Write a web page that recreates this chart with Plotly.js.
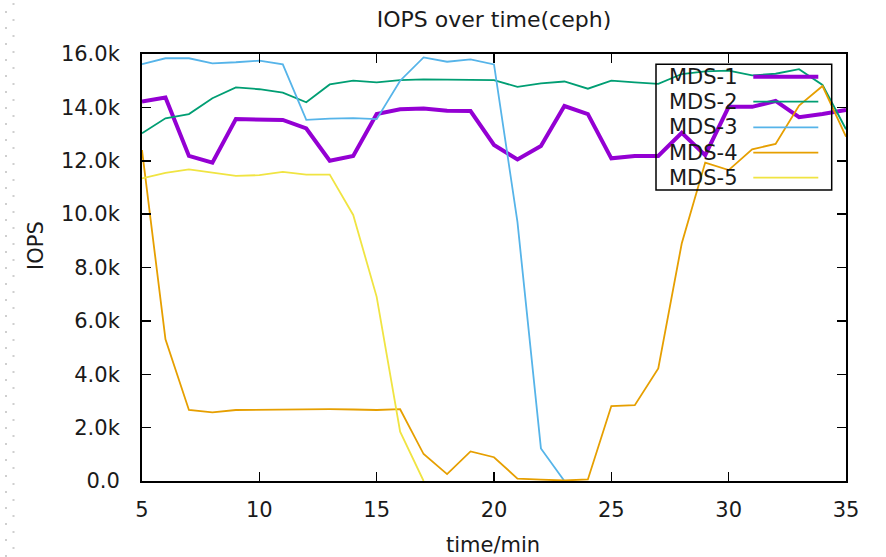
<!DOCTYPE html>
<html>
<head>
<meta charset="utf-8">
<script src="https://cdn.plot.ly/plotly-3.0.1.min.js"></script>
<style>
  html, body { margin: 0; padding: 0; background: #ffffff; }
  #chart { width: 886px; height: 557px; }
</style>
</head>
<body>
<div id="chart"></div>
<script>
// ---- data ----
const minutes = [5,6,7,8,9,10,11,12,13,14,15,16,17,18,19,20,21,22,23,24,25,26,27,28,29,30,31,32,33,34,35];
const seriesNames = ["MDS-1", "MDS-2", "MDS-3", "MDS-4", "MDS-5"];
const mds1 = [14220,14370,12180,11930,13560,13530,13530,13210,12000,12180,13750,13930,13960,13870,13860,12590,12050,12550,14050,13750,12090,12180,12180,13050,12210,14020,14020,14240,13630,13750,13900];
const mds2 = [13030,13590,13750,14340,14750,14680,14550,14190,14860,15000,14940,15020,15050,15050,15030,15020,14770,14900,14970,14700,15000,14940,14880,15250,15350,15380,15200,15260,15430,14840,13180];
const mds3 = [15620,15840,15840,15650,15690,15750,15610,13530,13580,13600,13560,15000,15870,15710,15800,15610,9700,1220,0,null,null,null,null,null,null,null,null,null,null,null,null];
const mds4 = [12400,5310,2660,2570,2660,2670,2680,2690,2690,2680,2660,2690,1010,260,1110,890,90,50,20,60,2810,2840,4220,8900,11930,11650,12430,12630,14070,14800,12900];
const mds5 = [11340,11550,11680,11550,11430,11460,11580,11480,11480,9970,6900,1850,0,null,null,null,null,null,null,null,null,null,null,null,null,null,null,null,null,null,null];
const xTickVals = [5,10,15,20,25,30,35];
const yTickVals = [0,2000,4000,6000,8000,10000,12000,14000,16000];
const yTickText = ["0.0","2.0k","4.0k","6.0k","8.0k","10.0k","12.0k","14.0k","16.0k"];

// ---- styles ----
const colors = ["#9400d3", "#009e73", "#56b4e9", "#e69f00", "#f0e442"];
const widths = [4, 1.8, 1.8, 1.8, 1.8];
const allSeries = [mds1, mds2, mds3, mds4, mds5];
const FONT = "DejaVu Sans, Verdana, sans-serif";
const FS = 21;
const TXT = "#1a1a1a";

// plot area in pixels
const W = 886, H = 557;
const PL = 142, PR = 846, PT = 54, PB = 481;
const px2x = p => (p - PL) / (PR - PL);
const px2y = p => (PB - p) / (PB - PT);

const traces = allSeries.map((ys, i) => ({
  type: "scatter",
  mode: "lines",
  name: seriesNames[i],
  x: minutes,
  y: ys,
  line: { color: colors[i], width: widths[i] },
  showlegend: false,
  hoverinfo: "skip"
}));

// manual gnuplot-style key (text left, sample right)
const shapes = [];
const annotations = [];
shapes.push({
  type: "rect", xref: "paper", yref: "paper",
  x0: px2x(656), x1: px2x(831.7), y0: px2y(190), y1: px2y(64.3),
  line: { color: "#000000", width: 1.5 }, fillcolor: "rgba(0,0,0,0)"
});
const rowY = [76.7, 101.7, 127.3, 152.7, 177.7];
seriesNames.forEach((n, i) => {
  annotations.push({
    xref: "paper", yref: "paper", x: px2x(667), y: px2y(rowY[i]),
    xanchor: "left", yanchor: "middle", showarrow: false,
    text: n, font: { family: FONT, size: FS, color: TXT }
  });
  shapes.push({
    type: "line", xref: "paper", yref: "paper",
    x0: px2x(753.3), x1: px2x(818.3), y0: px2y(rowY[i]), y1: px2y(rowY[i]),
    line: { color: colors[i], width: widths[i] }
  });
});

// axis titles
annotations.push({
  xref: "paper", yref: "paper", x: px2x(36), y: px2y(246),
  xanchor: "center", yanchor: "middle", showarrow: false, textangle: -90,
  text: "IOPS", font: { family: FONT, size: FS, color: TXT }
});
annotations.push({
  xref: "paper", yref: "paper", x: px2x(493), y: px2y(545),
  xanchor: "center", yanchor: "middle", showarrow: false,
  text: "time/min", font: { family: FONT, size: FS, color: TXT }
});

// faint dotted margin guides at the left edge of the screenshot
shapes.push({
  type: "line", xref: "paper", yref: "paper",
  x0: px2x(13.5), x1: px2x(13.5), y0: px2y(3), y1: px2y(557),
  line: { color: "#cfcfcf", width: 2, dash: "2px,14px" }
});
shapes.push({
  type: "line", xref: "paper", yref: "paper",
  x0: px2x(6), x1: px2x(6), y0: px2y(11), y1: px2y(557),
  line: { color: "#cfcfcf", width: 2, dash: "2px,14px" }
});

const layout = {
  width: W, height: H,
  margin: { l: PL, r: W - PR, t: PT, b: H - PB, pad: 0 },
  paper_bgcolor: "#ffffff",
  plot_bgcolor: "#ffffff",
  showlegend: false,
  title: {
    text: "IOPS over time(ceph)",
    x: 0.5, xref: "paper", xanchor: "center",
    y: 1 - 19 / H, yref: "container", yanchor: "middle",
    font: { family: FONT, size: 22, color: TXT }
  },
  xaxis: {
    range: [5, 35],
    tickmode: "array", tickvals: xTickVals,
    ticks: "inside", ticklen: 9, tickwidth: 1.5, tickcolor: "#000000",
    showline: true, linecolor: "#000000", linewidth: 2, mirror: "ticks",
    showgrid: false, zeroline: false,
    ticklabelstandoff: 9,
    tickfont: { family: FONT, size: FS, color: TXT }
  },
  yaxis: {
    range: [0, 16000],
    tickmode: "array", tickvals: yTickVals, ticktext: yTickText,
    ticks: "inside", ticklen: 9, tickwidth: 1.5, tickcolor: "#000000",
    showline: true, linecolor: "#000000", linewidth: 2, mirror: "ticks",
    showgrid: false, zeroline: false,
    ticklabelstandoff: 16,
    tickfont: { family: FONT, size: FS, color: TXT }
  },
  shapes: shapes,
  annotations: annotations
};

Plotly.newPlot("chart", traces, layout, { displayModeBar: false, staticPlot: true });
</script>
</body>
</html>
